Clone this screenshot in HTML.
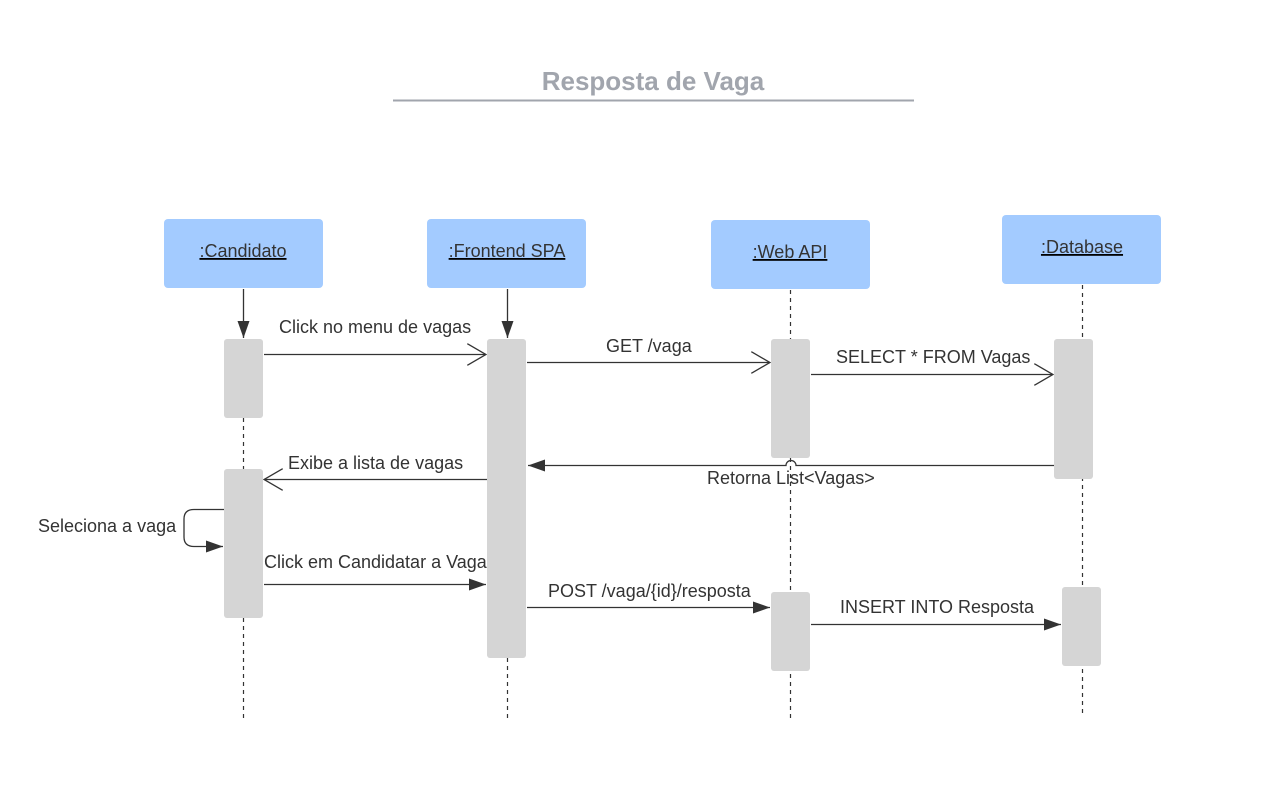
<!DOCTYPE html>
<html><head><meta charset="utf-8"><style>body{margin:0;background:#fff}svg{display:block}text{font-family:"Liberation Sans",sans-serif;fill:#333;font-size:18px}</style></head>
<body>
<svg width="1269" height="801" viewBox="0 0 1269 801">
<defs>
<marker id="f" markerWidth="18" markerHeight="12" refX="17" refY="6" orient="auto" markerUnits="userSpaceOnUse"><path d="M0,0 L17,6 L0,12 Z" fill="#333"/></marker>
<marker id="o" markerWidth="20" markerHeight="22" refX="19" refY="11" orient="auto" markerUnits="userSpaceOnUse"><path d="M0,0 L19,11 L0,22" fill="none" stroke="#333" stroke-width="1.3"/></marker>
</defs>
<text x="653" y="90" text-anchor="middle" style="font-size:26px;font-weight:bold;fill:#a1a5ad">Resposta de Vaga</text>
<line x1="393" y1="100.5" x2="914" y2="100.5" stroke="#a1a5ad" stroke-width="2"/>
<g stroke="#333" stroke-width="1.2" stroke-dasharray="4,4">
<line x1="243.5" y1="418" x2="243.5" y2="720"/>
<line x1="507.5" y1="658" x2="507.5" y2="720"/>
<line x1="790.5" y1="290" x2="790.5" y2="720"/>
<line x1="1082.5" y1="285" x2="1082.5" y2="716"/>
</g>
<g fill="#a3cbff">
<rect x="164" y="219" width="159" height="69" rx="4"/>
<rect x="427" y="219" width="159" height="69" rx="4"/>
<rect x="711" y="220" width="159" height="69" rx="4"/>
<rect x="1002" y="215" width="159" height="69" rx="4"/>
</g>
<g text-anchor="middle" text-decoration="underline">
<text x="243" y="257">:Candidato</text>
<text x="507" y="257">:Frontend SPA</text>
<text x="790" y="258">:Web API</text>
<text x="1082" y="253">:Database</text>
</g>
<g stroke="#333" stroke-width="1.3" fill="none">
<line x1="243.5" y1="289" x2="243.5" y2="338" marker-end="url(#f)"/>
<line x1="507.5" y1="289" x2="507.5" y2="338" marker-end="url(#f)"/>
</g>
<g fill="#d5d5d5">
<rect x="224" y="339" width="39" height="79" rx="3"/>
<rect x="224" y="469" width="39" height="149" rx="3"/>
<rect x="487" y="339" width="39" height="319" rx="3"/>
<rect x="771" y="339" width="39" height="119" rx="3"/>
<rect x="771" y="592" width="39" height="79" rx="3"/>
<rect x="1054" y="339" width="39" height="140" rx="3"/>
<rect x="1062" y="587" width="39" height="79" rx="3"/>
</g>
<g stroke="#333" stroke-width="1.3" fill="none">
<line x1="264" y1="354.5" x2="486" y2="354.5" marker-end="url(#o)"/>
<line x1="527" y1="362.5" x2="770" y2="362.5" marker-end="url(#o)"/>
<line x1="811" y1="374.5" x2="1053" y2="374.5" marker-end="url(#o)"/>
<path d="M1054,465.5 H796 A5,5 0 0 0 786,465.5 H528" marker-end="url(#f)"/>
<line x1="487" y1="479.5" x2="264" y2="479.5" marker-end="url(#o)"/>
<path d="M224,509.5 H194 Q184,509.5 184,519 V537 Q184,546.5 194,546.5 H223" marker-end="url(#f)"/>
<line x1="264" y1="584.5" x2="486" y2="584.5" marker-end="url(#f)"/>
<line x1="527" y1="607.5" x2="770" y2="607.5" marker-end="url(#f)"/>
<line x1="811" y1="624.5" x2="1061" y2="624.5" marker-end="url(#f)"/>
</g>
<text x="279" y="333">Click no menu de vagas</text>
<text x="606" y="352">GET /vaga</text>
<text x="836" y="363">SELECT * FROM Vagas</text>
<text x="707" y="484">Retorna List&lt;Vagas&gt;</text>
<text x="288" y="469">Exibe a lista de vagas</text>
<text x="38" y="532">Seleciona a vaga</text>
<text x="264" y="568">Click em Candidatar a Vaga</text>
<text x="548" y="597">POST /vaga/{id}/resposta</text>
<text x="840" y="613">INSERT INTO Resposta</text>
</svg>
</body></html>
